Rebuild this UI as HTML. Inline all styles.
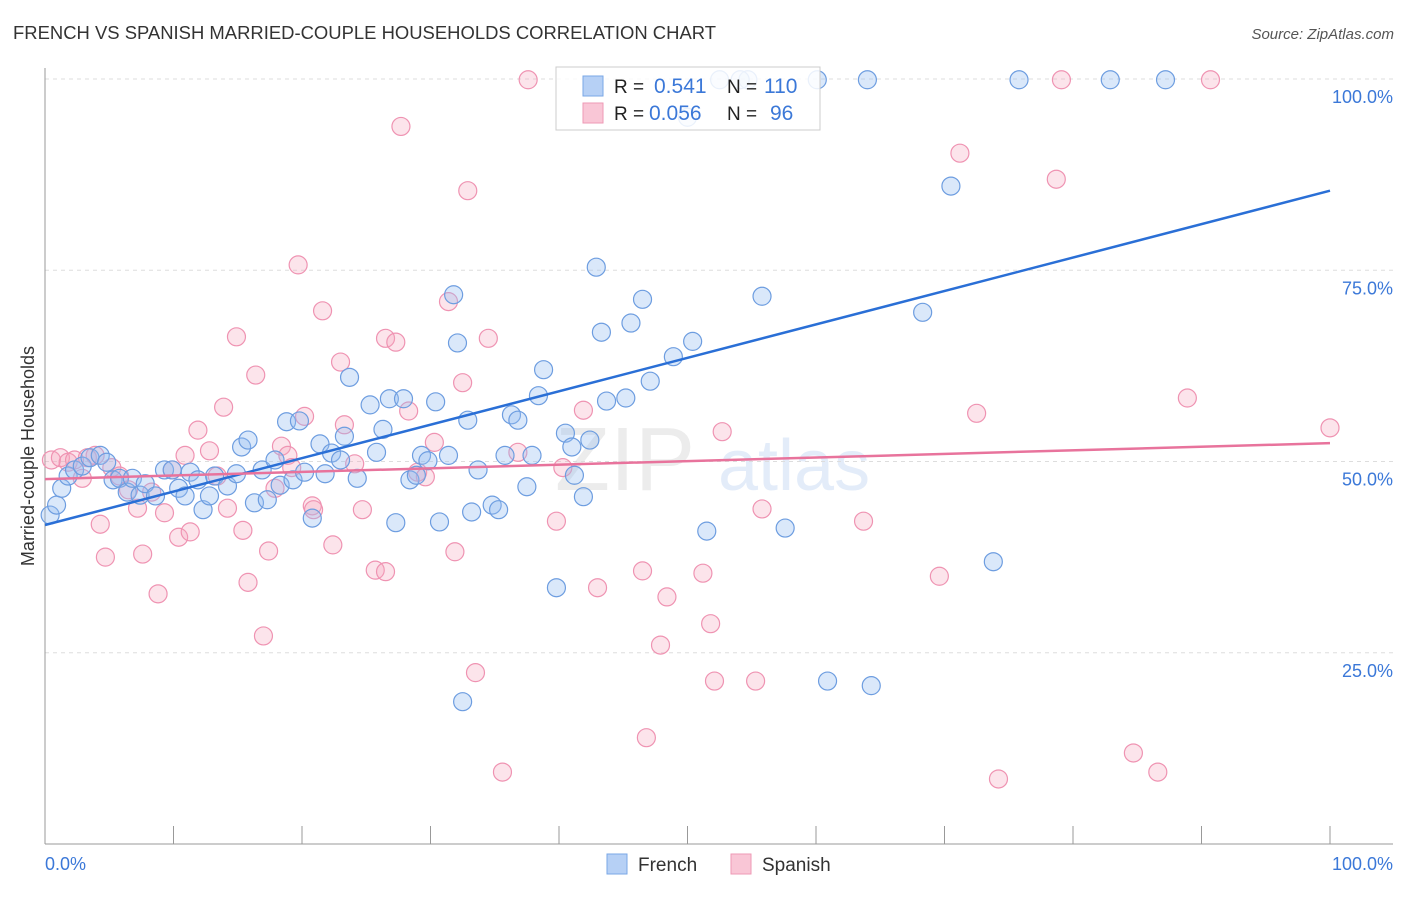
<!DOCTYPE html>
<html><head><meta charset="utf-8"><style>
body{margin:0;background:#fff;font-family:"Liberation Sans",sans-serif;}
svg text{font-family:"Liberation Sans",sans-serif;}
</style></head><body>
<svg id="chart" width="1406" height="892" xmlns="http://www.w3.org/2000/svg">
<text x="13" y="39" font-size="18" fill="#333" textLength="703" lengthAdjust="spacingAndGlyphs">FRENCH VS SPANISH MARRIED-COUPLE HOUSEHOLDS CORRELATION CHART</text>
<text x="1394" y="39" font-size="15" fill="#555" text-anchor="end" font-style="italic">Source: ZipAtlas.com</text>
<text transform="translate(34,456) rotate(-90)" font-size="18" fill="#333" text-anchor="middle">Married-couple Households</text>
<g opacity="0.18"><text x="555" y="490" font-size="90" fill="#999" font-family="Liberation Serif">ZIP</text><text x="718" y="490" font-size="72" fill="#6b9be0">atlas</text></g>
<g id="grid"></g><g id="axes"></g><g id="pts"></g><g id="lines"></g>
<g>
<rect x="556" y="67" width="264" height="63" fill="#fff" fill-opacity="0.85" stroke="#ccc"/>
<rect x="583" y="76" width="20" height="20" fill="#b6d0f5" stroke="#7aa7e6"/>
<rect x="583" y="103" width="20" height="20" fill="#f9c6d6" stroke="#ee99b5"/>
<text x="614" y="93" font-size="19" fill="#222">R = </text><text x="654" y="93" font-size="21" fill="#3b78d8">0.541</text>
<text x="727" y="93" font-size="19" fill="#222">N = </text><text x="764" y="93" font-size="21" fill="#3b78d8">110</text>
<text x="614" y="120" font-size="19" fill="#222">R = </text><text x="649" y="120" font-size="21" fill="#3b78d8">0.056</text>
<text x="727" y="120" font-size="19" fill="#222">N = </text><text x="770" y="120" font-size="21" fill="#3b78d8">96</text>
</g>
<g>
<rect x="607" y="854" width="20" height="20" fill="#b6d0f5" stroke="#7aa7e6"/>
<text x="638" y="871" font-size="19" fill="#333">French</text>
<rect x="731" y="854" width="20" height="20" fill="#f9c6d6" stroke="#ee99b5"/>
<text x="762" y="871" font-size="19" fill="#333">Spanish</text>
</g>
</svg>
<script>
const yTicks=[25,50,75,100];
const yTickLabels=["25.0%","50.0%","75.0%","100.0%"];
const xTicks=[0,10,20,30,40,50,60,70,80,90,100];
const frenchX=[0.4,0.9,1.3,1.8,2.3,2.9,3.5,4.3,4.8,5.3,5.8,6.4,6.8,7.4,7.8,8.6,9.3,9.9,10.4,10.9,11.3,11.9,12.3,12.8,13.2,14.2,14.9,15.3,15.8,16.3,16.9,17.3,17.9,18.3,18.8,19.3,19.8,20.2,20.8,21.4,21.8,22.3,23.0,23.3,23.7,24.3,25.3,25.8,26.3,26.8,27.3,27.9,28.4,28.9,29.3,29.8,30.4,30.7,31.4,31.8,32.1,32.9,33.2,33.7,34.8,35.3,35.8,36.3,36.8,37.5,37.9,38.4,38.8,39.8,40.5,41.0,41.2,41.9,42.4,42.9,43.3,43.7,45.2,45.6,46.5,47.1,48.9,50.4,51.5,55.8,57.6,60.9,64.3,68.3,70.5,73.8,32.5,54.7,60.1,64.0,75.8,82.9,87.2,50.0,52.5,54.1];
const frenchY=[43.0,44.3,46.5,48.1,48.9,49.4,50.5,50.8,49.9,47.6,47.8,46.0,47.8,45.6,47.1,45.5,48.9,48.9,46.5,45.5,48.6,47.6,43.7,45.5,48.1,46.8,48.4,51.9,52.8,44.6,48.9,45.0,50.2,46.9,55.2,47.6,55.3,48.6,42.6,52.3,48.4,51.1,50.2,53.3,61.0,47.8,57.4,51.2,54.2,58.2,42.0,58.2,47.6,48.2,50.8,50.1,57.8,42.1,50.8,71.8,65.5,55.4,43.4,48.9,44.3,43.7,50.8,56.1,55.4,46.7,50.8,58.6,62.0,33.5,53.7,51.9,48.2,45.4,52.8,75.4,66.9,57.9,58.3,68.1,71.2,60.5,63.7,65.7,40.9,71.6,41.3,21.3,20.7,69.5,86.0,36.9,18.6,99.9,99.9,99.9,99.9,99.9,99.9,95.0,99.9,99.9];
const spanishX=[0.5,1.2,1.8,2.3,2.9,3.3,3.9,4.3,4.7,5.2,5.8,6.5,7.2,7.6,8.3,8.8,9.3,9.9,10.4,10.9,11.3,11.9,12.8,13.4,13.9,14.2,14.9,15.4,15.8,16.4,17.0,17.4,17.9,18.4,18.9,19.2,19.7,20.2,20.8,20.9,21.6,22.4,23.0,23.3,24.1,24.7,25.7,26.5,26.5,27.3,27.7,28.3,29.0,29.6,30.3,31.4,31.9,32.5,32.9,33.5,34.5,35.6,36.8,37.6,39.8,40.3,41.9,43.0,46.5,46.8,47.9,48.4,51.2,51.8,52.1,52.7,55.3,55.8,63.7,69.6,71.2,72.5,74.2,78.7,79.1,84.7,86.6,88.9,90.7,100];
const spanishY=[50.2,50.5,49.9,50.2,47.8,50.5,50.8,41.8,37.5,49.2,48.1,46.3,43.9,37.9,46.0,32.7,43.3,48.9,40.1,50.8,40.8,54.1,51.4,48.1,57.1,43.9,66.3,41.0,34.2,61.3,27.2,38.3,46.5,52.0,50.8,49.2,75.7,55.9,44.2,43.7,69.7,39.1,63.0,54.8,49.7,43.7,35.8,35.6,66.1,65.6,93.8,56.6,48.6,48.0,52.5,70.9,38.2,60.3,85.4,22.4,66.1,9.4,51.2,99.9,42.2,49.2,56.7,33.5,35.7,13.9,26.0,32.3,35.4,28.8,21.3,53.9,21.3,43.8,42.2,35.0,90.3,56.3,8.5,86.9,99.9,11.9,9.4,58.3,99.9,54.4];
const frenchFit=[41.7,85.4];
const spanishFit=[47.7,52.4];
const NS="http://www.w3.org/2000/svg";
const X0=45,X1=1330,Y0=844,Y100=79;
function sx(v){return X0+(X1-X0)*v/100;}
function sy(v){return Y0-(Y0-Y100)*v/100;}
function mk(tag,attrs,parent){const e=document.createElementNS(NS,tag);for(const k in attrs)e.setAttribute(k,attrs[k]);document.getElementById(parent).appendChild(e);return e;}
yTicks.forEach((t,i)=>{
 const l=mk('line',{x1:X0,x2:1393,y1:sy(t),y2:sy(t),stroke:'#ddd','stroke-dasharray':'4,4'},'grid');
 
 
 const tx=mk('text',{x:1393,y:sy(t)+24,'font-size':18,fill:'#3b78d8','text-anchor':'end'},'grid');
 tx.textContent=yTickLabels[i];
 
 
});
const ax=mk('line',{x1:X0,x2:X0,y1:68,y2:Y0,stroke:'#999'},'axes');


const bx=mk('line',{x1:X0,x2:1393,y1:Y0,y2:Y0,stroke:'#999'},'axes');


xTicks.forEach(t=>{
 const l=mk('line',{x1:sx(t),x2:sx(t),y1:826,y2:Y0,stroke:'#999'},'axes');
 
 
});
const xl0=mk('text',{x:45,y:870,'font-size':18,fill:'#3b78d8'},'axes');xl0.textContent='0.0%';


const xl1=mk('text',{x:1393,y:870,'font-size':18,fill:'#3b78d8','text-anchor':'end'},'axes');xl1.textContent='100.0%';


spanishX.forEach((x,i)=>{
 const c=mk('circle',{cx:sx(x),cy:sy(spanishY[i]),r:9,fill:'rgba(245,165,190,0.3)',stroke:'#ef93b2','stroke-width':1.2},'pts');
 
 
});
frenchX.forEach((x,i)=>{
 const c=mk('circle',{cx:sx(x),cy:sy(frenchY[i]),r:9,fill:'rgba(150,190,240,0.35)',stroke:'#6d9de0','stroke-width':1.2},'pts');
 
 
});
const fl=mk('line',{x1:sx(0),x2:sx(100),y1:sy(frenchFit[0]),y2:sy(frenchFit[1]),stroke:'#2a6fd6','stroke-width':2.5},'lines');


const sl=mk('line',{x1:sx(0),x2:sx(100),y1:sy(spanishFit[0]),y2:sy(spanishFit[1]),stroke:'#e8739c','stroke-width':2.5},'lines');


</script>
</body></html>
